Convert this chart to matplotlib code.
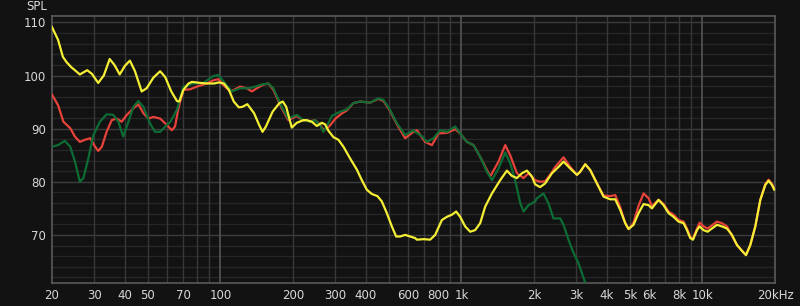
import matplotlib
matplotlib.use("Agg")
import matplotlib.pyplot as plt
from matplotlib.ticker import FixedLocator, NullLocator

# Frequency response curves (Hz, dB SPL)
yellow_f = [20, 21.2, 22.2, 23.0, 24.0, 26.1, 28.0, 29.3, 31.1, 32.8, 34.7, 36.3,
            38.2, 40.1, 42.1, 44.2, 47.1, 49.4, 52.7, 56.2, 59.0, 62.5, 66.0, 67.5,
            70.2, 73.7, 76.2, 82.6, 88.1, 94.1, 98.6, 103.3, 108.4, 113.6, 119.2,
            123.3, 129.3, 137.9, 144.7, 149.5, 154.4, 164.6, 175.6, 181.4, 187.4,
            197.7, 207.4, 220.9, 228.2, 239.4, 251.1, 263.4, 271.9, 280.6, 294.3,
            308.7, 323.8, 345.1, 368.0, 386.0, 404.9, 424.7, 448.1, 467.3, 490.2,
            514.2, 535.8, 556.7, 584.0, 612.6, 642.5, 653.1, 695.6, 741.7, 777.9,
            829.4, 869.9, 912.6, 950.8, 987.8, 1036, 1087, 1140, 1196, 1254, 1338,
            1448, 1544, 1619, 1699, 1782, 1869, 1960, 2023, 2121, 2226, 2374, 2529,
            2652, 2827, 3015, 3111, 3263, 3423, 3649, 3887, 4144, 4347, 4559, 4783,
            4936, 5177, 5431, 5697, 5976, 6173, 6575, 6897, 7234, 7588, 7960, 8350,
            8626, 8902, 9135, 9491, 9729, 10107, 10501, 10953, 11489, 12051, 12641,
            13259, 13908, 14589, 15158, 15797, 16570, 17381, 18232, 18816, 19432, 19866]
yellow_db = [109.1, 106.7, 103.5, 102.5, 101.6, 100.2, 101.0, 100.3, 98.6, 100.0, 103.1, 102.0,
             100.2, 101.8, 102.8, 100.8, 97.0, 97.6, 99.6, 100.8, 99.7, 97.0, 95.2, 95.1,
             97.3, 98.5, 98.8, 98.6, 98.5, 98.5, 98.7, 98.5, 97.3, 95.1, 94.0,
             94.1, 94.6, 92.9, 90.7, 89.4, 90.4, 93.2, 94.8, 95.1, 94.1,
             90.2, 91.1, 91.6, 91.6, 91.3, 90.5, 91.1, 90.8, 89.6, 88.4,
             87.9, 86.6, 84.4, 82.3, 80.3, 78.5, 77.7, 77.3, 76.3, 74.1,
             71.6, 69.7, 69.7, 70.0, 69.7, 69.4, 69.1, 69.2, 69.1, 70.0,
             72.8, 73.4, 73.8, 74.4, 73.4, 71.6, 70.6, 70.9, 72.2, 75.3, 77.8,
             80.3, 82.1, 81.1, 80.7, 81.6, 82.1, 81.0, 79.5, 79.0, 79.7, 81.6, 82.8,
             83.8, 82.5, 81.3, 81.9, 83.3, 82.2, 79.7, 77.2, 76.7, 76.7, 74.7, 72.2,
             71.1, 71.9, 74.1, 75.8, 75.6, 75.0, 76.6, 75.6, 74.1, 73.4, 72.5, 72.2,
             70.9, 69.4, 69.1, 70.9, 71.6, 70.9, 70.6, 71.2, 71.9, 71.6, 71.2,
             70.0, 68.1, 67.0, 66.2, 68.1, 71.6, 76.6, 79.4, 80.2, 79.4, 78.5]

red_f = [20, 21.2, 22.3, 23.8, 24.9, 26.1, 27.4, 28.8, 30.2, 31.1, 32.2, 33.7, 35.4,
         37.1, 38.9, 40.9, 43.5, 45.6, 47.9, 50.2, 52.7, 56.2, 59.9, 62.8, 64.8, 66.9,
         70.2, 74.8, 79.7, 87.7, 93.5, 98.0, 102.8, 109.7, 115.0, 120.6, 128.7, 134.9,
         141.5, 150.7, 158.1, 165.8, 179.7, 191.4, 207, 221, 236, 247, 259, 267, 276,
         285, 300, 320, 334, 356, 380, 418, 452, 475, 506, 540, 584, 632, 653, 707,
         754, 803, 870, 942, 988, 1053, 1122, 1196, 1316, 1425, 1519, 1593, 1699,
         1809, 1898, 2023, 2121, 2226, 2374, 2449, 2652, 2827, 3015, 3111, 3263,
         3423, 3649, 3887, 4144, 4347, 4559, 4783, 4936, 5177, 5431, 5697, 5976,
         6173, 6575, 6897, 7234, 7588, 7960, 8350, 8626, 8902, 9135, 9491, 9729,
         10107, 10501, 10953, 11489, 12051, 12641, 13259, 13908, 14589, 15158,
         15797, 16570, 17381, 18232, 18816, 19432, 19866]
red_db = [96.4, 94.4, 91.3, 90.1, 88.5, 87.5, 87.9, 88.2, 86.6, 85.8, 86.6, 89.4, 91.6,
          91.9, 91.3, 92.6, 93.8, 94.6, 92.9, 91.9, 92.2, 91.9, 90.7, 89.7, 90.4, 93.8,
          97.3, 97.4, 97.9, 98.5, 99.1, 99.3, 98.2, 97.0, 97.4, 97.9, 97.6, 97.0,
          97.6, 98.3, 98.5, 97.3, 93.8, 91.6, 92.4, 91.5, 91.4, 91.6, 90.8, 89.8, 90.0,
          90.6, 91.9, 92.9, 93.4, 94.8, 95.1, 94.9, 95.6, 95.2, 93.3, 90.8, 88.2, 89.4,
          89.7, 87.5, 86.9, 89.1, 89.2, 89.9, 89.1, 87.5, 86.9, 84.7, 81.0, 83.8, 86.9,
          85.0, 81.6, 80.7, 81.6, 80.3, 80.0, 80.1, 81.8, 82.8, 84.6, 82.8, 81.3, 81.9,
          83.3, 82.2, 79.7, 77.4, 77.3, 77.5, 75.2, 72.2, 71.1, 72.3, 75.5, 77.8, 76.9,
          75.4, 76.6, 75.8, 74.4, 73.8, 72.8, 72.5, 71.2, 69.6, 69.3, 71.2, 72.3,
          71.6, 71.2, 71.8, 72.5, 72.2, 71.6, 69.8, 68.1, 67.0, 66.2,
          68.1, 71.6, 76.6, 79.6, 80.4, 79.6, 78.7]

green_f = [20, 21.2, 22.6, 23.8, 24.9, 26.1, 27.0, 28.3, 29.7, 31.6, 33.7, 35.9, 37.7,
           39.5, 41.5, 43.5, 45.6, 47.9, 51.0, 53.5, 56.2, 59.9, 62.0, 65.9, 70.2,
           77.2, 84.9, 93.5, 98.0, 104.6, 111.5, 120.6, 130.7, 139.3, 148.5, 158.1,
           165.8, 179.7, 191.4, 207.4, 220.9, 235.6, 247, 259, 267.4, 276.2, 289.9,
           314, 334, 356, 380, 418, 452, 475, 506, 540, 584, 632, 642.5, 685, 719,
           766, 816, 870, 942, 988, 1053, 1122, 1196, 1275, 1338, 1425, 1519, 1593,
           1671, 1753, 1809, 1898, 2023, 2056, 2190, 2298, 2409, 2570, 2652, 2781,
           2917, 3059, 3161, 3263, 3400]
green_db = [86.6, 86.9, 87.7, 86.6, 83.8, 80.0, 80.7, 84.4, 88.8, 91.3, 92.7, 92.6, 91.3,
            88.5, 91.3, 94.1, 95.2, 94.1, 91.0, 89.4, 89.4, 90.7, 91.3, 93.5, 97.9,
            98.5, 98.6, 99.9, 100.1, 98.5, 97.0, 97.6, 97.6, 97.9, 98.3, 98.5,
            97.6, 94.1, 91.9, 92.6, 91.6, 91.3, 91.6, 90.7, 89.4, 90.4, 92.4,
            93.2, 93.6, 94.8, 95.1, 94.9, 95.7, 95.4, 93.5, 91.0, 88.8, 89.7, 89.4, 88.6, 87.5,
            88.2, 89.7, 89.4, 90.4, 89.1, 87.5, 86.9, 84.7, 81.9, 80.3, 82.5, 85.5, 83.5,
            80.3, 76.0, 74.4, 75.6, 76.3, 76.9, 77.8, 75.9, 73.1, 73.1, 71.9, 69.1,
            66.6, 64.7, 62.8, 61.0, 58.5]

x_ticks = [20, 30, 40, 50, 70, 100, 200, 300, 400, 600, 800, 1000, 2000, 3000,
           4000, 5000, 6000, 8000, 10000, 20000]
x_labels = ["20", "30", "40", "50", "70", "100", "200", "300", "400", "600", "800",
            "1k", "2k", "3k", "4k", "5k", "6k", "8k", "10k", "20kHz"]
y_ticks = [70, 80, 90, 100, 110]

bg = "#121212"
text_col = "#d8d8d8"

fig = plt.figure(figsize=(8.0, 3.06), dpi=100, facecolor=bg)
ax = fig.add_axes([0.065, 0.0761, 0.90375, 0.8716], facecolor=bg)
ax.set_xscale("log")
ax.set_xlim(20, 20000)
ax.set_ylim(61.0, 111.2)

# grid: minor every 2 dB, brighter every 10 dB and on the decades
for v in range(62, 111, 2):
    ax.axhline(v, color="#3c3c3c" if v % 10 == 0 else "#262626", lw=1.0, zorder=1)
for dec in [10, 100, 1000, 10000]:
    for m in range(1, 10):
        f = dec * m
        if f <= 20 or f >= 20000:
            continue
        major = m == 1
        ax.axvline(f, color="#555555" if major else "#383838",
                   lw=1.2 if major else 1.0, zorder=1)

ax.plot(red_f, red_db, color="#e8433a", lw=1.6, zorder=3)
ax.plot(green_f, green_db, color="#0d6b34", lw=1.6, zorder=4)
ax.plot(yellow_f, yellow_db, color="#f4ef35", lw=1.6, zorder=5)

ax.xaxis.set_major_locator(FixedLocator(x_ticks))
ax.xaxis.set_minor_locator(NullLocator())
ax.set_xticklabels(x_labels)
ax.set_yticks(y_ticks)
ax.yaxis.set_minor_locator(NullLocator())
ax.tick_params(which="both", length=0, colors=text_col, labelsize=8.5, pad=4.5)

for s in ax.spines.values():
    s.set_color("#5a5a5a")
    s.set_linewidth(1.2)

fig.text(37 / 800, 1 - 7 / 306, "SPL", color=text_col, fontsize=8.5,
         ha="center", va="center")

fig.savefig("out.png", dpi=100, facecolor=bg)
